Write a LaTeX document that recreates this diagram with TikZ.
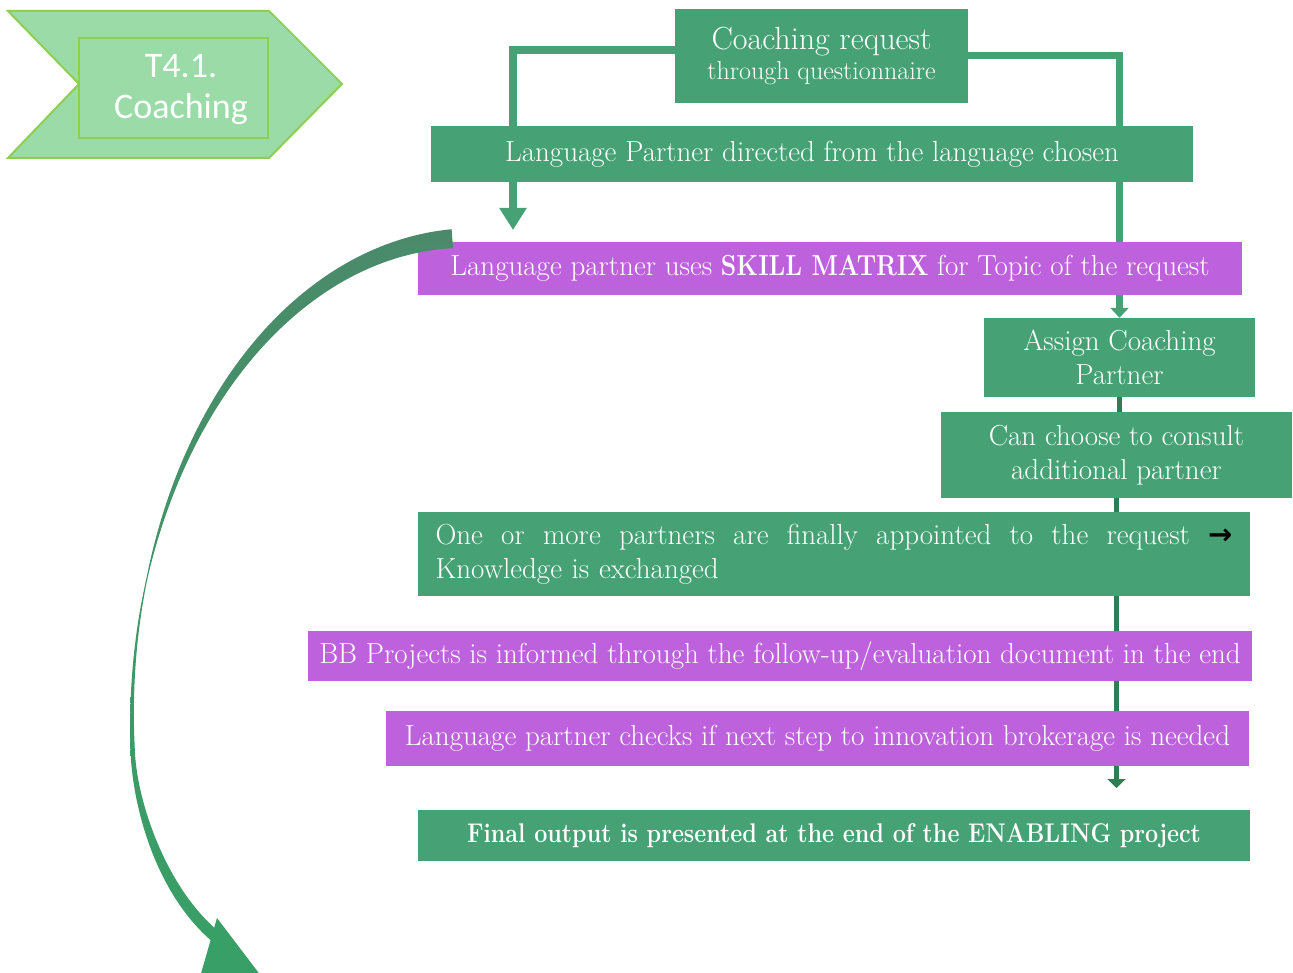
\documentclass[tikz,border=0pt]{standalone}
\usepackage{fontspec}
\newfontfamily\calibri{Carlito}
\newfontfamily\arrowfont{DejaVu Sans}
\usetikzlibrary{arrows.meta,backgrounds}
\definecolor{boxgreen}{HTML}{46A274}
\definecolor{boxpurple}{HTML}{BD62DC}
\definecolor{chevfill}{HTML}{9ADBA8}
\definecolor{chevline}{HTML}{8DCF50}
\definecolor{darkline}{HTML}{2E7D54}
\definecolor{curvetop}{HTML}{4A8A6A}
\definecolor{curvebot}{HTML}{38A066}
\newcommand\fs[2]{\fontsize{#1}{#2}\selectfont}
\tikzset{
  gbox/.style={fill=boxgreen, text=white, inner sep=0pt, align=center, font=\fs{29}{34}},
  pbox/.style={gbox, fill=boxpurple},
  link/.style={draw=boxgreen, line width=8pt},
  dline/.style={draw=darkline, line width=5pt},
  chev/.style={fill=chevfill, draw=chevline, line width=2pt, line join=miter},
}
\begin{document}
\begin{tikzpicture}[x=1pt,y=-1pt,
  % elliptic spine of the curved arrow and its varying half width
  declare function={
    hw(\t) = (\t>197) ? (0.5+9*(\t-197)/70) : (0.5+0.081*(197-\t));
    nn(\t) = sqrt((4.82*cos(\t))^2+(3.38*sin(\t))^2);
    nx(\t) = 4.82*cos(\t)/nn(\t);
    ny(\t) = 3.38*sin(\t)/nn(\t);
  }]
\useasboundingbox (0,0) rectangle (1293,973);

% task chevron
\draw[chev] (8,11) -- (269,11) -- (342,84) -- (269,158) -- (8,158) -- (79,84) -- cycle;
\node[draw=chevline, line width=2pt, minimum width=189pt, minimum height=100pt, inner sep=0pt] (tag) at (173.5,88) {};
\node[text=white, font=\calibri\fs{36}{41}, align=center, inner sep=0pt] (tagtext) at (181,90) {T4.1.\\Coaching};

% process boxes
\node[gbox, minimum width=293pt, minimum height=94pt] (box1) at (821.5,56)
  {{\fs{32}{34}Coaching request}\\[-4pt]{\fs{26}{30}through questionnaire}};
\node[gbox, minimum width=762pt, minimum height=56pt] (box2) at (812,154)
  {Language Partner directed from the language chosen};
\node[pbox, minimum width=824pt, minimum height=53pt] (box3) at (830,268.5)
  {Language partner uses \scalebox{0.855}[1]{\textbf{SKILL MATRIX}} for Topic of the request};
\node[gbox, minimum width=271pt, minimum height=79pt] (box4) at (1119.5,357.5)
  {Assign Coaching\\Partner};
\node[gbox, minimum width=351pt, minimum height=86pt] (box5) at (1116.5,455)
  {Can choose to consult\\additional partner};
\node[gbox, minimum width=832pt, minimum height=84pt, text width=797pt, align=left] (box6) at (834,554)
  {\makebox[797pt][s]{\spaceskip=0pt\xspaceskip=0pt One or more partners are finally appointed to the request {\arrowfont\bfseries\textcolor{black}{→}}}\\Knowledge is exchanged};
\node[pbox, minimum width=944pt, minimum height=50pt] (box7) at (780,656)
  {BB Projects is informed through the follow-up/evaluation document in the end};
\node[pbox, minimum width=863pt, minimum height=55pt] (box8) at (817.5,738.5)
  {Language partner checks if next step to innovation brokerage is needed};
\node[gbox, minimum width=832pt, minimum height=51pt] (box9) at (834,835.5)
  {\scalebox{0.864}[1]{\fs{27}{34}\textbf{Final output is presented at the end of the ENABLING project}}};

\coordinate (lend) at (513,230);
\coordinate (bend) at (1116.5,788);

% white page and connectors, behind the boxes
\begin{pgfonlayer}{background}
  \fill[white] (0,0) rectangle (1293,973);
  \draw[link, -{Triangle[width=26pt,length=22pt]}] ([yshift=6pt]box1.west) -| (lend);
  \draw[link, line width=7pt, -{Triangle[width=18pt,length=10pt]}] (box1.east) -| (box4.north);
  \draw[dline] (box4.south) -- (box4.south |- box5.north);
  \draw[dline, -{Triangle[width=18pt,length=9pt]}] (box5.south) -- (bend);
\end{pgfonlayer}

% tapered curved arrow on the left
\shade[top color=curvetop, bottom color=curvebot]
  plot[variable=\t, domain=267:176, samples=60, smooth]
    ({470+338*cos(\t)+hw(\t)*nx(\t)}, {720+482*sin(\t)+hw(\t)*ny(\t)})
  .. controls (133,806) and (155,894) .. (214,943)
  -- (218,931) .. controls (165,886) and (137.5,801) .. (135,753.5)
  -- plot[variable=\t, domain=176:267, samples=60, smooth]
    ({470+338*cos(\t)-hw(\t)*nx(\t)}, {720+482*sin(\t)-hw(\t)*ny(\t)})
  -- cycle;
\fill[curvebot] (217,918) -- (275.5,995) -- (194.8,995) -- cycle;
\end{tikzpicture}
\end{document}
